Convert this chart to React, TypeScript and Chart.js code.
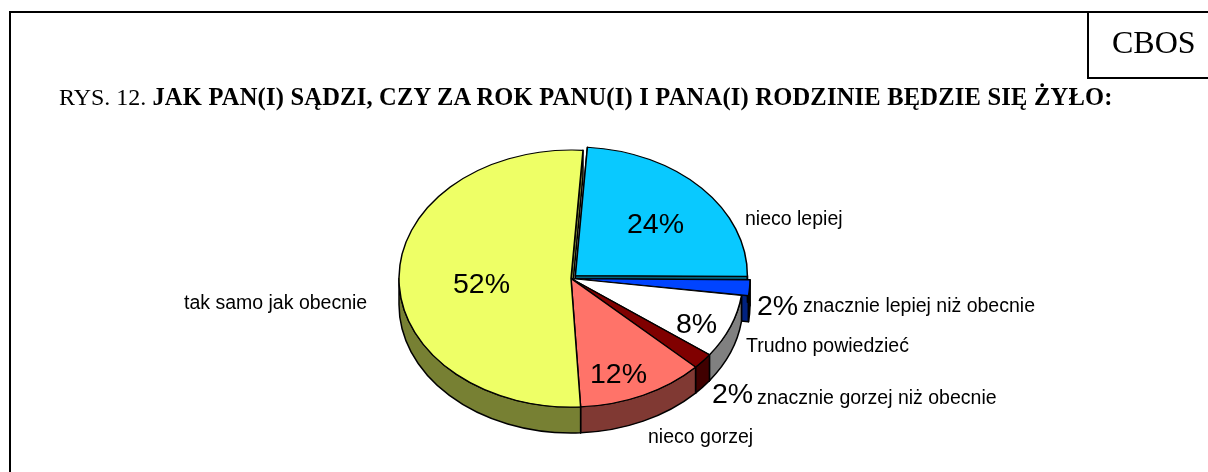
import React, { useEffect, useRef } from "react";
import { Chart, registerables } from "chart.js";

Chart.register(...registerables);

const categories = [
  "nieco lepiej",
  "znacznie lepiej niż obecnie",
  "Trudno powiedzieć",
  "znacznie gorzej niż obecnie",
  "nieco gorzej",
  "tak samo jak obecnie",
];
const values = [24, 2, 8, 2, 12, 52];
const topColors = ["#09C9FF", "#0044FF", "#FFFFFF", "#800000", "#FF7369", "#EEFF66"];
const sideColors = ["#006480", "#002280", "#808080", "#400000", "#803933", "#778033"];
const sliceOffsets = [24, 15, 0, 0, 0, 0];

const titlePlain = "RYS. 12. ";
const titleBold = "JAK PAN(I) SĄDZI, CZY ZA ROK PANU(I) I PANA(I) RODZINIE BĘDZIE SIĘ ŻYŁO:";
const brand = "CBOS";

const VERTICAL_SQUASH = 0.747;
const DEPTH = 26;
const LINE = 1.5;

// text anchors (left, baseline) in canvas pixels, in slice order
const percentAnchors = [
  [627, 233],
  [757, 315],
  [676, 333],
  [712, 403],
  [590, 383],
  [453, 293],
];
const nameAnchors = [
  [745, 224.5],
  [803, 312],
  [746, 352],
  [757, 404],
  [648, 443],
  [184, 309],
];

const piePlugin = {
  id: "tiltedPie",
  beforeDatasetsDraw(chart: any) {
    const ctx = chart.ctx as CanvasRenderingContext2D;
    const arcs = chart.getDatasetMeta(0).data as any[];
    const parts = arcs.map((arc, i) => {
      const p = arc.getProps(["x", "y", "startAngle", "endAngle", "outerRadius", "circumference"], true);
      const base = (arc.options.offset || 0) / 4;
      // Chart.js pushes narrow slices further out by this factor
      const off = base * (2 - Math.sin(Math.min(Math.PI, p.circumference)));
      const half = (p.startAngle + p.endAngle) / 2;
      return { ...p, i, cx: p.x + Math.cos(half) * off, cy: p.y + Math.sin(half) * off * VERTICAL_SQUASH };
    });
    ctx.save();
    ctx.lineWidth = LINE;
    ctx.strokeStyle = "#000";
    ctx.lineJoin = "round";
    // cut faces along the straight edges
    for (const s of parts) {
      for (const angle of [s.startAngle, s.endAngle]) {
        const rx = s.cx + Math.cos(angle) * s.outerRadius;
        const ry = s.cy + Math.sin(angle) * s.outerRadius * VERTICAL_SQUASH;
        ctx.beginPath();
        ctx.moveTo(s.cx, s.cy);
        ctx.lineTo(rx, ry);
        ctx.lineTo(rx, ry + DEPTH);
        ctx.lineTo(s.cx, s.cy + DEPTH);
        ctx.closePath();
        ctx.fillStyle = sideColors[s.i];
        ctx.fill();
        ctx.stroke();
      }
    }
    // outer walls on the front half
    for (const s of parts) {
      const a = Math.max(s.startAngle, 0);
      const b = Math.min(s.endAngle, Math.PI);
      if (a >= b) continue;
      const ry = s.outerRadius * VERTICAL_SQUASH;
      ctx.beginPath();
      ctx.ellipse(s.cx, s.cy, s.outerRadius, ry, 0, a, b, false);
      ctx.ellipse(s.cx, s.cy + DEPTH, s.outerRadius, ry, 0, b, a, true);
      ctx.closePath();
      ctx.fillStyle = sideColors[s.i];
      ctx.fill();
      ctx.stroke();
    }
    ctx.restore();
  },
  beforeDatasetDraw(chart: any) {
    const ctx = chart.ctx as CanvasRenderingContext2D;
    const arc = chart.getDatasetMeta(0).data[0];
    ctx.save();
    ctx.translate(arc.x, arc.y);
    ctx.scale(1, VERTICAL_SQUASH);
    ctx.translate(-arc.x, -arc.y);
  },
  afterDatasetDraw(chart: any) {
    chart.ctx.restore();
  },
  afterDatasetsDraw(chart: any) {
    const ctx = chart.ctx as CanvasRenderingContext2D;
    ctx.save();
    ctx.fillStyle = "#000";
    ctx.textAlign = "left";
    ctx.textBaseline = "alphabetic";
    ctx.font = '28.5px "Liberation Sans"';
    values.forEach((v, i) => ctx.fillText(`${v}%`, percentAnchors[i][0], percentAnchors[i][1]));
    ctx.font = '19.5px "Liberation Sans"';
    categories.forEach((c, i) => ctx.fillText(c, nameAnchors[i][0], nameAnchors[i][1]));
    ctx.restore();
  },
};

const rule = (left: number, top: number, width: number, height: number): React.CSSProperties => ({
  position: "absolute",
  left,
  top,
  width,
  height,
  background: "#000",
});

export default function App() {
  const ref = useRef<HTMLCanvasElement>(null);
  useEffect(() => {
    document.body.style.margin = "0";
    const chart = new Chart(ref.current as HTMLCanvasElement, {
      type: "pie",
      data: {
        labels: categories,
        datasets: [
          {
            data: values,
            backgroundColor: topColors,
            borderColor: "#000",
            borderWidth: LINE,
            offset: sliceOffsets,
            hoverOffset: 0,
          } as any,
        ],
      },
      options: {
        animation: false,
        responsive: false,
        rotation: 4,
        radius: 172,
        layout: { padding: { left: 0, right: 66, top: 85, bottom: 0 } },
        plugins: { legend: { display: false }, tooltip: { enabled: false } },
      } as any,
      plugins: [piePlugin],
    });
    return () => chart.destroy();
  }, []);
  return (
    <div style={{ position: "absolute", left: 0, top: 0, width: 1208, height: 472, overflow: "hidden", background: "#fff" }}>
      <canvas ref={ref} width={1208} height={472} style={{ position: "absolute", left: 0, top: 0, display: "block" }} />
      <div style={rule(9, 11, 2, 461)} />
      <div style={rule(9, 11, 1199, 2)} />
      <div style={rule(1087, 11, 2, 68)} />
      <div style={rule(1087, 77, 121, 2)} />
      <div style={{ position: "absolute", left: 1112, top: 24, font: '32px/37px "Liberation Serif"', color: "#000", whiteSpace: "nowrap" }}>{brand}</div>
      <div style={{ position: "absolute", left: 59, top: 83, font: '24px/28px "Liberation Serif"', color: "#000", whiteSpace: "pre" }}>
        {titlePlain}
        <b style={{ fontSize: 24.5, letterSpacing: 0.22 }}>{titleBold}</b>
      </div>
    </div>
  );
}
